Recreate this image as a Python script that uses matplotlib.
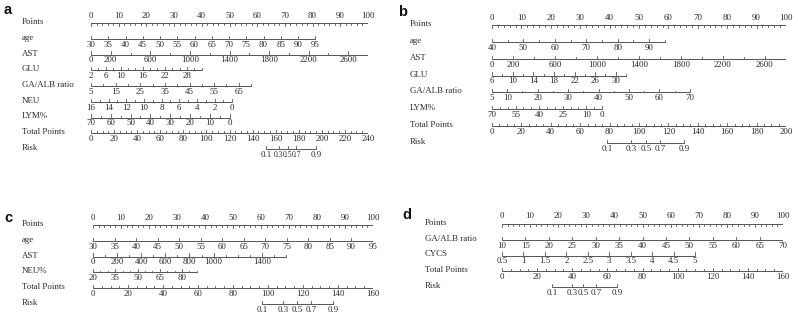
import numpy as np
import matplotlib
matplotlib.use("Agg")
import matplotlib.pyplot as plt
from matplotlib.transforms import blended_transform_factory

W, H = 798, 319

# ---------------- data ----------------
# each variable: (name, value range, points range, tick values, labelled values)
panel_a_vars = [
    ("age", [30, 95], [0, 81], list(range(30, 96, 5)), list(range(30, 96, 5))),
    ("AST", [0, 2800], [0, 100], list(range(0, 2801, 200)), [0, 200, 600, 1000, 1400, 1800, 2200, 2600]),
    ("GLU", [2, 32], [0, 40], list(range(2, 33, 2)), [2, 6, 10, 16, 22, 28]),
    ("GA/ALB ratio", [5, 70], [0, 57.8], list(range(5, 71, 5)), [5, 15, 25, 35, 45, 55, 65]),
    ("NEU", [0, 16], [51, 0], list(range(0, 17, 1)), [16, 14, 12, 10, 8, 6, 4, 2, 0]),
    ("LYM%", [0, 70], [50, 0], list(range(0, 71, 5)), [70, 60, 50, 40, 30, 20, 10, 0]),
]
panel_a_total = 240
panel_a_risk = [0.1, 0.3, 0.5, 0.7, 0.9]
panel_a_risk_tp = [151.5, 162.5, 170.5, 178.0, 195.0]

panel_b_vars = [
    ("age", [40, 95], [0, 58.8], list(range(40, 96, 5)), [40, 50, 60, 70, 80, 90]),
    ("AST", [0, 2800], [0, 100], list(range(0, 2801, 200)), [0, 200, 600, 1000, 1400, 1800, 2200, 2600]),
    ("GLU", [6, 32], [0, 45.6], list(range(6, 33, 2)), [6, 10, 14, 18, 22, 26, 30]),
    ("GA/ALB ratio", [5, 70], [0, 67.3], list(range(5, 71, 5)), [5, 10, 20, 30, 40, 50, 60, 70]),
    ("LYM%", [0, 70], [37.4, 0], list(range(0, 71, 5)), [70, 55, 40, 25, 10, 0]),
]
panel_b_total = 200
panel_b_risk = [0.1, 0.3, 0.5, 0.7, 0.9]
panel_b_risk_tp = [78.2, 94.6, 104.8, 114.3, 130.6]

panel_c_vars = [
    ("age", [30, 95], [0, 100], list(range(30, 96, 5)), list(range(30, 96, 5))),
    ("AST", [0, 1600], [0, 68.9], list(range(0, 1601, 100)), [0, 200, 400, 600, 800, 1000, 1400]),
    ("NEU%", [20, 90], [0, 37.1], list(range(20, 91, 5)), [20, 35, 50, 65, 80]),
]
panel_c_total = 160
panel_c_risk = [0.1, 0.3, 0.5, 0.7, 0.9]
panel_c_risk_tp = [96.6, 108.6, 116.6, 124.6, 137.1]

panel_d_vars = [
    ("GA/ALB ratio", [10, 70], [0, 100], list(range(10, 71, 5)), list(range(10, 71, 5))),
    ("CYCS", [0.5, 5], [0, 68.7], list(np.arange(0.5, 5.01, 0.5)), list(np.arange(0.5, 5.01, 0.5))),
]
panel_d_total = 160
panel_d_risk = [0.1, 0.3, 0.5, 0.7, 0.9]
panel_d_risk_tp = [28.5, 39.9, 46.1, 53.5, 65.5]

# ---------------- styling / layout ----------------
LINE = "#555555"
TXT = "#2a2a2a"
SERIF = ["Liberation Serif", "DejaVu Serif"]
FS = 6.4

fig = plt.figure(figsize=(W / 100, H / 100), dpi=100)


def fmt(v):
    if abs(v - round(v)) < 1e-9:
        return str(int(round(v)))
    return ("%g" % v)


def draw_panel(letter, letter_xy, label_x, x0, x100, y_first, y_last, variables,
               total_max, risk_vals, risk_tp, risk_fs=None):
    ax = fig.add_axes([x0 / W, 0, (x100 - x0) / W, 1])
    ax.set_xlim(0, 100)
    ax.set_ylim(H, 0)
    ax.axis("off")
    nrows = len(variables) + 3
    ys = np.linspace(y_first, y_last, nrows)
    lab_tr = blended_transform_factory(fig.transFigure, ax.transData)
    names = ["Points"] + [v[0] for v in variables] + ["Total Points", "Risk"]
    for nm, y in zip(names, ys):
        ax.text(label_x / W, y - 1, nm, transform=lab_tr, fontsize=FS, family=SERIF,
                color=TXT, ha="left", va="center")
    big, small = 3.2, 1.8

    # Points axis (ticks down, labels above)
    y = ys[0]
    ax.plot([0, 100], [y, y], color=LINE, lw=0.7, solid_capstyle="butt")
    for t in range(0, 101, 2):
        L = big if t % 10 == 0 else small
        ax.plot([t, t], [y, y + L], color=LINE, lw=0.6)
        if t % 10 == 0:
            ax.text(t, y - 3.5, str(t), fontsize=FS, family=SERIF, color=TXT,
                    ha="center", va="bottom")

    def axis_row(y, pos_ticks, labelled_mask, labels):
        lo, hi = min(pos_ticks), max(pos_ticks)
        ax.plot([lo, hi], [y, y], color=LINE, lw=0.7, solid_capstyle="butt")
        for p, m in zip(pos_ticks, labelled_mask):
            L = big if m else small
            ax.plot([p, p], [y, y - L], color=LINE, lw=0.6)
        for p, s in labels:
            ax.text(p, y + 1.8, s, fontsize=FS, family=SERIF, color=TXT,
                    ha="center", va="top")

    for (nm, vr, pr, ticks, labs), y in zip(variables, ys[1:-2]):
        order = np.argsort(vr)
        xp = np.array(vr)[order]
        fp = np.array(pr)[order]
        tpos = np.interp(ticks, xp, fp)
        lab_set = [round(l, 6) for l in labs]
        mask = [round(t, 6) in lab_set for t in ticks]
        lpos = np.interp(labs, xp, fp)
        axis_row(y, list(tpos), mask, [(p, fmt(l)) for p, l in zip(lpos, labs)])

    # Total points
    y = ys[-2]
    tvals = np.arange(0, total_max + 1, 5)
    tpos = tvals / total_max * 100
    mask = [v % 20 == 0 for v in tvals]
    axis_row(y, list(tpos), mask,
             [(v / total_max * 100, str(int(v))) for v in tvals if v % 20 == 0])

    # Risk
    y = ys[-1]
    rpos = np.array(risk_tp) / total_max * 100
    ax.plot([rpos[0], rpos[-1]], [y, y], color=LINE, lw=0.7, solid_capstyle="butt")
    for p in rpos:
        ax.plot([p, p], [y, y - big], color=LINE, lw=0.6)
    if risk_fs is None:
        risk_fs = [FS] * len(risk_vals)
    for p, r, f in zip(rpos, risk_vals, risk_fs):
        ax.text(p, y + 1.8, fmt(r), fontsize=f, family=SERIF, color=TXT,
                ha="center", va="top")

    fig.text(letter_xy[0] / W, 1 - letter_xy[1] / H, letter, fontsize=10.5,
             fontweight="bold", family=["Liberation Sans", "DejaVu Sans"],
             color="#111111", ha="left", va="center")


draw_panel("a", (4, 10), 22, 91, 368, 23, 149, panel_a_vars, panel_a_total,
           panel_a_risk, panel_a_risk_tp, risk_fs=[FS, 5.6, 5.6, 5.6, FS])
draw_panel("b", (398, 12), 410, 492, 786, 25, 143, panel_b_vars, panel_b_total,
           panel_b_risk, panel_b_risk_tp)
draw_panel("c", (4, 218), 22, 93, 373, 225, 304, panel_c_vars, panel_c_total,
           panel_c_risk, panel_c_risk_tp)
draw_panel("d", (402, 215), 425, 502, 783, 224, 287, panel_d_vars, panel_d_total,
           panel_d_risk, panel_d_risk_tp)

fig.savefig("out.png", dpi=100, facecolor="white")
